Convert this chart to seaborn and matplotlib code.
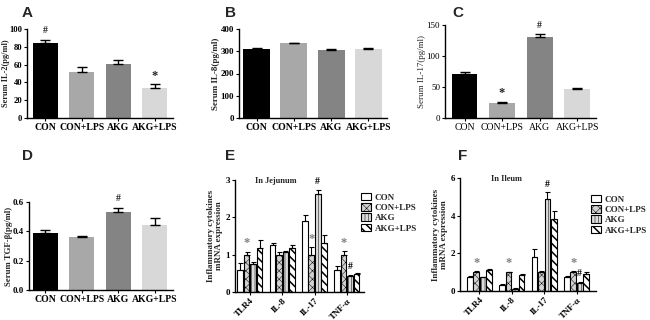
import numpy as np
import pandas as pd
import matplotlib
matplotlib.use("Agg")
import matplotlib.pyplot as plt
import seaborn as sns
from matplotlib.patches import Patch

sns.set_style("ticks")
plt.rcParams['font.family'] = ['Liberation Serif', 'DejaVu Serif']
plt.rcParams['font.weight'] = 'bold'
plt.rcParams['hatch.linewidth'] = 0.5

# ---------------- data ----------------
groups = ["CON", "CON+LPS", "AKG", "AKG+LPS"]
group_colors = ["#000000", "#a8a8a8", "#848484", "#d8d8d8"]

il2_vals = [84, 52, 61, 34]
il2_err = [4, 5, 4, 4]
il2_marks = ["#", "", "", "*"]

il8_vals = [312, 335, 307, 311]
il8_err = [4, 4, 4, 4]
il8_marks = ["", "", "", ""]

il17_vals = [71, 24, 131, 46]
il17_err = [3, 2, 4, 2]
il17_marks = ["", "*", "#", ""]

tgf_vals = [0.39, 0.36, 0.53, 0.44]
tgf_err = [0.02, 0.01, 0.03, 0.05]
tgf_marks = ["", "", "#", ""]

genes = ["TLR4", "IL-8", "IL-17", "TNF-α"]
# jejunum: one list per group, values per gene
jej_CON = [0.60, 1.25, 1.90, 0.60]
jej_CONLPS = [1.00, 1.00, 1.00, 1.00]
jej_AKG = [0.75, 1.07, 2.62, 0.42]
jej_AKGLPS = [1.18, 1.18, 1.30, 0.48]
jej_err_CON = [0.17, 0.05, 0.16, 0.09]
jej_err_CONLPS = [0.08, 0.07, 0.20, 0.09]
jej_err_AKG = [0.05, 0.04, 0.12, 0.04]
jej_err_AKGLPS = [0.20, 0.08, 0.24, 0.04]
jej_stars = [("*", 1, 0), ("*", 1, 2), ("#", 2, 2), ("*", 1, 3), ("#", 2, 3)]

ile_CON = [0.75, 0.32, 1.80, 0.72]
ile_CONLPS = [1.00, 1.00, 1.00, 1.00]
ile_AKG = [0.72, 0.12, 4.90, 0.45]
ile_AKGLPS = [1.10, 0.85, 3.80, 0.92]
ile_err_CON = [0.05, 0.05, 0.45, 0.08]
ile_err_CONLPS = [0.05, 0.03, 0.05, 0.05]
ile_err_AKG = [0.04, 0.02, 0.35, 0.05]
ile_err_AKGLPS = [0.08, 0.05, 0.45, 0.10]
ile_stars = [("*", 1, 0), ("*", 1, 1), ("#", 2, 2), ("*", 1, 3), ("#", 2, 3)]

W, H = 650, 320
fig = plt.figure(figsize=(6.5, 3.2), dpi=100)


def add_axes(x0, x1, ytop, ybot):
    return fig.add_axes([x0 / W, 1 - ybot / H, (x1 - x0) / W, (ybot - ytop) / H])


def style_axes(ax):
    sns.despine(ax=ax)
    for s in ["left", "bottom"]:
        ax.spines[s].set_linewidth(1.0)
        ax.spines[s].set_color("black")
    ax.tick_params(axis="both", length=2.5, width=0.8, pad=1, colors="black",
                   labelsize=6.5)


def simple_panel(ax, vals, errs, marks, ylim, yticks, ylabel, fmt, xlim, width,
                 weight="bold", label_x=None, label_fs=6.5, ytick_fs=6.5):
    df = pd.DataFrame({"g": groups, "v": vals})
    sns.barplot(data=df, x="g", y="v", hue="g", palette=group_colors, legend=False,
                width=width, ax=ax, errorbar=None, saturation=1, linewidth=0)
    patches = list(ax.patches)
    for i, p in enumerate(patches):
        cx = p.get_x() + p.get_width() / 2
        top = p.get_height()
        ax.errorbar(cx, top, yerr=[[0], [errs[i]]], fmt="none", ecolor="black",
                    elinewidth=1.0, capsize=3.5, capthick=1.0)
        if marks[i]:
            fs = 7 if marks[i] == "#" else 9
            dy = (ylim[1] - ylim[0]) * (0.05 if marks[i] == "#" else 0.03)
            ax.text(cx, top + errs[i] + dy, marks[i], ha="center", va="bottom",
                    fontsize=fs, fontweight="bold", color="#222222")
    style_axes(ax)
    ax.set_ylim(*ylim)
    ax.set_yticks(yticks)
    ax.set_yticklabels([fmt.format(t) for t in yticks], fontsize=ytick_fs,
                       fontweight=weight)
    ax.set_xlim(*xlim)
    ax.set_xlabel("")
    ax.set_ylabel(ylabel, fontsize=label_fs, fontweight=weight, labelpad=0.5)
    if label_x is not None:
        ax.yaxis.set_label_coords(label_x, 0.5)
    ax.set_xticks(range(4))
    ax.set_xticklabels(groups, fontsize=7, fontweight=weight)


axA = add_axes(27, 173, 29, 118)
simple_panel(axA, il2_vals, il2_err, il2_marks, (0, 100), [0, 20, 40, 60, 80, 100],
             "Serum IL-2(pg/ml)", "{:g}", (-0.5, 3.5), 0.68, label_x=-0.118,
             label_fs=6, ytick_fs=6.2)

axB = add_axes(239, 387, 29, 118)
simple_panel(axB, il8_vals, il8_err, il8_marks, (0, 400), [0, 100, 200, 300, 400],
             "Serum IL-8(pg/ml)", "{:g}", (-0.47, 3.5), 0.72)

axC = add_axes(445, 596, 25, 118)
simple_panel(axC, il17_vals, il17_err, il17_marks, (0, 150), [0, 50, 100, 150],
             "Serum IL-17(pg/ml)", "{:g}", (-0.52, 3.5), 0.69, weight="normal")

axD = add_axes(29, 173, 202, 290)
simple_panel(axD, tgf_vals, tgf_err, tgf_marks, (0, 0.6), [0.0, 0.2, 0.4, 0.6],
             "Serum TGF-β(pg/ml)", "{:.1f}", (-0.45, 3.5), 0.68, label_x=-0.108,
             label_fs=6.3)

# ---------------- grouped panels ----------------
fills = ["white", "#d2d2d2", "#dcdcdc", "white"]
hatches = [None, "xxxx", "|||||", "\\\\\\\\"]
hatch_lw = [0.5, 0.35, 0.35, 1.1]


def grouped_panel(ax, series, errs, stars, ylim, yticks, title, title_x, xlim,
                  legend_xy):
    rows = []
    for gi, g in enumerate(groups):
        for ji, gene in enumerate(genes):
            rows.append({"gene": gene, "grp": g, "v": series[gi][ji]})
    df = pd.DataFrame(rows)
    sns.barplot(data=df, x="gene", y="v", hue="grp", hue_order=groups, order=genes,
                palette=fills, width=0.8, gap=0.12, errorbar=None, saturation=1,
                edgecolor="black", linewidth=0.8, ax=ax, legend=False)
    conts = list(ax.containers)
    bars = {}
    for gi, cont in enumerate(conts):
        for ji, p in enumerate(list(cont.patches)):
            if hatches[gi]:
                p.set_hatch(hatches[gi])
                if hasattr(p, "set_hatch_linewidth"):
                    p.set_hatch_linewidth(hatch_lw[gi])
            cx = p.get_x() + p.get_width() / 2
            top = p.get_height()
            bars[(gi, ji)] = (cx, top, errs[gi][ji])
    for (gi, ji), (cx, top, e) in bars.items():
        ax.errorbar(cx, top, yerr=[[0], [e]], fmt="none",
                    ecolor="black", elinewidth=0.8, capsize=1.8, capthick=0.8)
    for sym, gi, ji in stars:
        cx, top, e = bars[(gi, ji)]
        yt = top + e
        if sym == "*":
            ax.text(cx, yt + ylim[1] * 0.02, "*", ha="center", va="bottom",
                    fontsize=9, color="#808080", fontweight="bold")
        else:
            ax.text(cx, yt + ylim[1] * 0.03, "#", ha="center", va="bottom",
                    fontsize=7, color="black", fontweight="bold")
    style_axes(ax)
    ax.set_ylim(*ylim)
    ax.set_yticks(yticks)
    ax.set_yticklabels([str(t) for t in yticks], fontsize=6.5, fontweight="bold")
    ax.set_xlim(*xlim)
    ax.set_xlabel("")
    ax.set_ylabel("Inflammatory cytokines\nmRNA expression", fontsize=6.5,
                  fontweight="bold", labelpad=2, linespacing=1.0)
    ax.set_xticks(range(4))
    ax.set_xticklabels(genes, rotation=45, ha="right", rotation_mode="anchor",
                       fontsize=6.5, fontweight="bold")
    ax.text(title_x, 0.99, title, transform=ax.transAxes, ha="center", va="center",
            fontsize=6, fontweight="bold")
    handles = []
    for i in range(4):
        h = Patch(facecolor=fills[i], edgecolor="black", hatch=hatches[i],
                  linewidth=0.8, label=groups[i])
        handles.append(h)
    leg = fig.legend(handles=handles, loc="upper left",
                     bbox_to_anchor=(legend_xy[0] / W, 1 - legend_xy[1] / H),
                     frameon=False, fontsize=6.5, handlelength=1.1, handleheight=0.9,
                     handletextpad=0.4, labelspacing=0.15, borderaxespad=0,
                     borderpad=0)
    for i, t in enumerate(leg.get_texts()):
        t.set_fontweight("bold")
    for i, p in enumerate(leg.get_patches()):
        if hasattr(p, "set_hatch_linewidth"):
            p.set_hatch_linewidth(hatch_lw[i])


axE = add_axes(235, 364, 180, 292)
grouped_panel(axE, [jej_CON, jej_CONLPS, jej_AKG, jej_AKGLPS],
              [jej_err_CON, jej_err_CONLPS, jej_err_AKG, jej_err_AKGLPS],
              jej_stars, (0, 3), [0, 1, 2, 3], "In Jejunum", 0.32, (-0.46, 3.53),
              (361, 193))

axF = add_axes(460, 596, 178, 291)
grouped_panel(axF, [ile_CON, ile_CONLPS, ile_AKG, ile_AKGLPS],
              [ile_err_CON, ile_err_CONLPS, ile_err_AKG, ile_err_AKGLPS],
              ile_stars, (0, 6), [0, 2, 4, 6], "In Ileum", 0.34, (-0.6, 3.6),
              (591, 195))

# panel letters
for letter, x, y in [("A", 22, 13), ("B", 225, 13), ("C", 452, 13),
                     ("D", 22, 156), ("E", 225, 156), ("F", 458, 156)]:
    fig.text(x / W, 1 - y / H, letter, fontsize=11, fontweight="bold",
             family=["Liberation Sans", "DejaVu Sans"], va="center", ha="left")

fig.savefig("out.png", dpi=100)
